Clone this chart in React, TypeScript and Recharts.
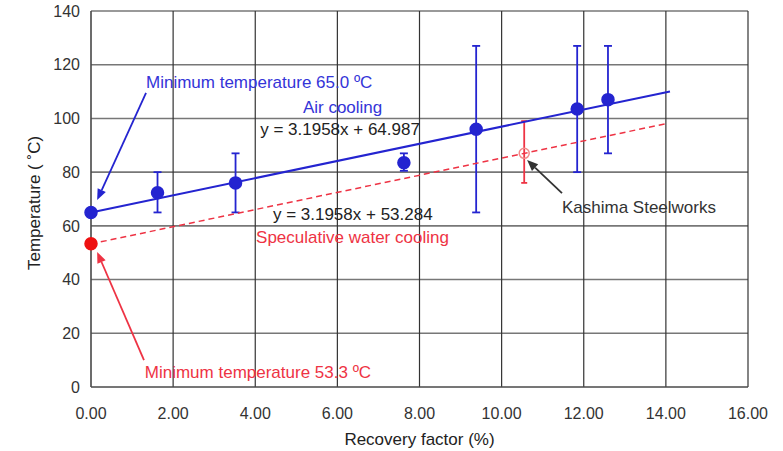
import { ScatterChart, Scatter, XAxis, YAxis, CartesianGrid, ErrorBar, ReferenceLine, ReferenceDot } from 'recharts'

const xTicks = [0, 2, 4, 6, 8, 10, 12, 14, 16]
const yTicks = [0, 20, 40, 60, 80, 100, 120, 140]

// air cooling measurements (recovery %, temperature, error bar top / bottom)
const airX = [0, 1.62, 3.52, 7.62, 9.38, 11.84, 12.59]
const airT = [65.0, 72.3, 76.0, 83.5, 96.0, 103.5, 107.0]
const airTop = [65.0, 80, 87, 87, 127, 127, 127]
const airBottom = [65.0, 65, 65, 80.5, 65, 80, 87]

// Kashima Steelworks
const kashimaX = [10.55]
const kashimaT = [87]
const kashimaTop = [99]
const kashimaBottom = [76]

// speculative water cooling minimum
const waterX = [0]
const waterT = [53.3]

// fitted trend lines y = slope * x + intercept
const slope = 3.1958
const airIntercept = 64.987
const waterIntercept = 53.284
const airLineEnd = 14.1
const waterLineEnd = 14.0

const BLUE = '#2424d0'
const TEXT_BLUE = '#3434d8'
const RED = '#ee3344'
const FONT = '"Liberation Sans", Arial, sans-serif'

const withErr = (xs: number[], ys: number[], tops: number[], bottoms: number[]) =>
  xs.map((x, i) => ({ x, y: ys[i], err: [ys[i] - bottoms[i], tops[i] - ys[i]] }))

const airData = withErr(airX, airT, airTop, airBottom)
const kashimaData = withErr(kashimaX, kashimaT, kashimaTop, kashimaBottom)
const waterData = waterX.map((x, i) => ({ x, y: waterT[i] }))
const airLine = [0, airLineEnd].map((x) => ({ x, y: slope * x + airIntercept }))
const waterLine = [0, waterLineEnd].map((x) => ({ x, y: slope * x + waterIntercept }))

function arrowShape(color: string) {
  return (p: any) => {
    const { x1, y1, x2, y2 } = p
    const a = Math.atan2(y2 - y1, x2 - x1)
    const L = 11, W = 4.5
    const bx = x2 - L * Math.cos(a), by = y2 - L * Math.sin(a)
    const pts = `${x2},${y2} ${bx - W * Math.sin(a)},${by + W * Math.cos(a)} ${bx + W * Math.sin(a)},${by - W * Math.cos(a)}`
    return (
      <g>
        <line x1={x1} y1={y1} x2={bx} y2={by} stroke={color} strokeWidth={1.8} />
        <polygon points={pts} fill={color} />
      </g>
    )
  }
}

function textShape(text: string, color: string) {
  return (p: any) => (
    <text x={p.cx} y={p.cy} fill={color} fontSize={17} fontFamily={FONT}>{text}</text>
  )
}

const notes = [
  { x: 1.34, y: 111.2, text: 'Minimum temperature 65.0 ºC', color: TEXT_BLUE },
  { x: 5.16, y: 101.9, text: 'Air cooling', color: TEXT_BLUE },
  { x: 4.12, y: 93.8, text: 'y = 3.1958x + 64.987', color: '#222' },
  { x: 4.43, y: 62.2, text: 'y = 3.1958x + 53.284', color: '#222' },
  { x: 4.02, y: 53.7, text: 'Speculative water cooling', color: RED },
  { x: 1.31, y: 3.2, text: 'Minimum temperature 53.3 ºC', color: RED },
  { x: 11.47, y: 64.9, text: 'Kashima Steelworks', color: '#333' },
]

const arrows = [
  { from: { x: 1.34, y: 109.5 }, to: { x: 0.15, y: 69.6 }, color: BLUE },
  { from: { x: 1.29, y: 10 }, to: { x: 0.15, y: 50.3 }, color: RED },
  { from: { x: 11.47, y: 72.2 }, to: { x: 10.62, y: 84.5 }, color: '#333' },
]

const dot = (r: number, fill: string, stroke: string) => (p: any) => (
  <circle cx={p.cx} cy={p.cy} r={r} fill={fill} stroke={stroke} strokeWidth={1.5} />
)

export default function App() {
  return (
    <div style={{ position: 'absolute', left: 0, top: 0, background: '#fff' }}>
      <ScatterChart width={783} height={451} margin={{ top: 11, right: 35, left: 31, bottom: 14 }}>
        <CartesianGrid stroke="#777" strokeWidth={1.6} vertical={false} horizontalValues={yTicks} />
        <CartesianGrid stroke="#333" strokeWidth={1.2} horizontal={false} verticalValues={xTicks} />
        <XAxis type="number" dataKey="x" domain={[0, 16]} ticks={xTicks} tickFormatter={(v: number) => v.toFixed(2)}
          axisLine={{ stroke: '#555' }} tickLine={false} tickSize={0} tickMargin={21} height={50}
          tick={{ fontSize: 16, fill: '#333', fontFamily: FONT }}
          label={{ content: ({ viewBox }: any) => (
            <text x={viewBox.x + viewBox.width / 2} y={viewBox.y + 58} textAnchor="middle" fontSize={17} fill="#222" fontFamily={FONT}>Recovery factor (%)</text>
          ) }} />
        <YAxis type="number" dataKey="y" domain={[0, 140]} ticks={yTicks} width={60}
          axisLine={{ stroke: '#555' }} tickLine={false} tickSize={0} tickMargin={11}
          tick={{ fontSize: 16, fill: '#333', fontFamily: FONT }}
          label={{ content: ({ viewBox }: any) => {
            const cx = viewBox.x + 9, cy = viewBox.y + viewBox.height / 2 + 4
            return (
              <text x={cx} y={cy} transform={`rotate(-90 ${cx} ${cy})`} textAnchor="middle" fontSize={17} fill="#222" fontFamily={FONT}>Temperature ( ˚C)</text>
            )
          } }} />
        <Scatter data={waterLine} line={{ stroke: RED, strokeWidth: 1.5, strokeDasharray: '6 4' }} shape={() => <g />} isAnimationActive={false} />
        <Scatter data={airLine} line={{ stroke: BLUE, strokeWidth: 2 }} shape={() => <g />} isAnimationActive={false} />
        <Scatter data={kashimaData} shape={dot(5, 'none', '#f28a8a')} isAnimationActive={false}>
          <ErrorBar dataKey="err" direction="y" width={3} stroke={RED} strokeWidth={1.8} />
        </Scatter>
        <Scatter data={airData} shape={dot(6, BLUE, BLUE)} isAnimationActive={false}>
          <ErrorBar dataKey="err" direction="y" width={4} stroke={BLUE} strokeWidth={1.8} />
        </Scatter>
        <Scatter data={waterData} shape={dot(6, '#ee1111', '#ee1111')} isAnimationActive={false} />
        {arrows.map((a, i) => (
          <ReferenceLine key={`a${i}`} segment={[a.from, a.to]} shape={arrowShape(a.color)} />
        ))}
        {notes.map((n, i) => (
          <ReferenceDot key={`n${i}`} x={n.x} y={n.y} r={0} shape={textShape(n.text, n.color)} />
        ))}
      </ScatterChart>
    </div>
  )
}
